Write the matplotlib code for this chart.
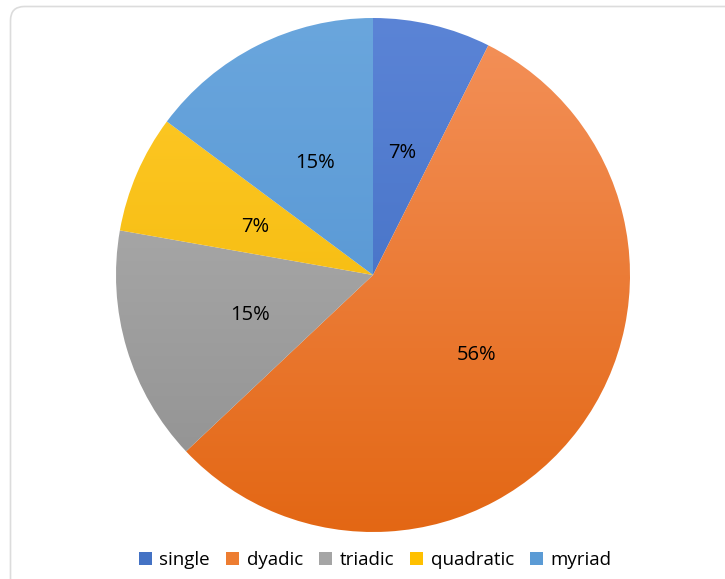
import matplotlib.pyplot as plt
import numpy as np
from matplotlib.patches import FancyBboxPatch, Rectangle
from matplotlib.colors import to_rgb

labels = ['single', 'dyadic', 'triadic', 'quadratic', 'myriad']
counts = [2, 15, 4, 2, 4]
top_colors = ['#5b84d6', '#f4915a', '#b5b5b5', '#ffca2a', '#6aa6dd']
bottom_colors = ['#3a68bd', '#e36714', '#8f8f8f', '#f0b400', '#4d8fcf']
legend_colors = ['#4472c4', '#ed7d31', '#a5a5a5', '#ffc000', '#5b9bd5']

W, H = 725, 579
fig = plt.figure(figsize=(W / 100, H / 100), dpi=100)
ax = fig.add_axes([0, 0, 1, 1])

# rounded card border
card = FancyBboxPatch((10.5, -30), 760, H - 6.5 + 30, boxstyle='round,pad=0,rounding_size=14',
                      facecolor='white', edgecolor='#dcdcdc', linewidth=1.2, zorder=0)
ax.add_patch(card)

cx, cy, r = 373, H - 275, 257
wedges, texts, autotexts = ax.pie(counts, startangle=90, counterclock=False, center=(cx, cy),
                                  radius=r, autopct='%1.0f%%', pctdistance=0.5,
                                  colors=legend_colors, frame=True,
                                  wedgeprops=dict(linewidth=0),
                                  textprops=dict(fontsize=14.5, family='Open Sans', color='black'))
ax.set_xlim(0, W)
ax.set_ylim(0, H)
ax.set_aspect('equal')
ax.axis('off')

for w, c1, c2 in zip(wedges, top_colors, bottom_colors):
    a, b = np.array(to_rgb(c1)), np.array(to_rgb(c2))
    t = np.linspace(0, 1, 256)[:, None, None]
    grad = np.repeat(a + (b - a) * t, 2, axis=1)
    im = ax.imshow(grad, extent=(cx - r, cx + r, cy - r, cy + r), origin='upper',
                   aspect='auto', zorder=w.get_zorder() + 0.1)
    im.set_clip_path(w)
    w.set_visible(False)
for t in autotexts:
    t.set_zorder(5)
    x, y = t.get_position()
    t.set_position((x, y - 3))

handles = [Rectangle((0, 0), 1, 1, facecolor=c) for c in legend_colors]
ax.legend(handles, labels, loc='center', bbox_to_anchor=(375 / W, 1 - 560 / H), ncol=5,
          frameon=False, handlelength=0.7, handleheight=0.7, handletextpad=0.4,
          columnspacing=0.85, prop=dict(family='Open Sans', size=13.5))

plt.savefig('out.png', dpi=100)
